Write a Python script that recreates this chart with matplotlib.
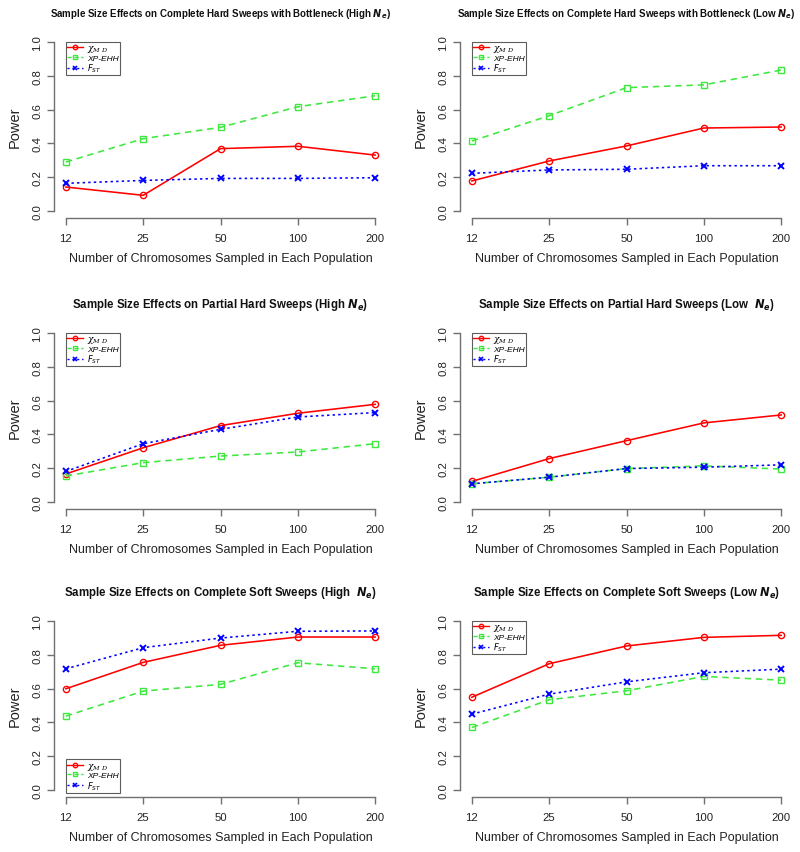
import matplotlib
matplotlib.use("Agg")
import matplotlib.pyplot as plt
from matplotlib.lines import Line2D

plt.rcParams['font.family'] = ['Liberation Sans', 'DejaVu Sans']

sample_sizes = ["12", "25", "50", "100", "200"]

titles = [
    r"Sample Size Effects on Complete Hard Sweeps with Bottleneck (High $\mathbfit{N}_{\mathbfit{e}}$)",
    r"Sample Size Effects on Complete Hard Sweeps with Bottleneck (Low $\mathbfit{N}_{\mathbfit{e}}$)",
    r"Sample Size Effects on Partial Hard Sweeps (High $\mathbfit{N}_{\mathbfit{e}}$)",
    r"Sample Size Effects on Partial Hard Sweeps (Low  $\mathbfit{N}_{\mathbfit{e}}$)",
    r"Sample Size Effects on Complete Soft Sweeps (High  $\mathbfit{N}_{\mathbfit{e}}$)",
    r"Sample Size Effects on Complete Soft Sweeps (Low $\mathbfit{N}_{\mathbfit{e}}$)",
]

chi_md = [
    [0.142, 0.093, 0.369, 0.383, 0.331],
    [0.178, 0.296, 0.385, 0.491, 0.497],
    [0.166, 0.321, 0.452, 0.525, 0.578],
    [0.122, 0.257, 0.363, 0.468, 0.515],
    [0.599, 0.755, 0.856, 0.905, 0.905],
    [0.549, 0.747, 0.852, 0.903, 0.915],
]
xp_ehh = [
    [0.290, 0.428, 0.495, 0.617, 0.682],
    [0.414, 0.564, 0.730, 0.746, 0.834],
    [0.154, 0.233, 0.272, 0.296, 0.345],
    [0.108, 0.147, 0.198, 0.214, 0.195],
    [0.437, 0.585, 0.625, 0.753, 0.717],
    [0.370, 0.534, 0.587, 0.672, 0.650],
]
fst = [
    [0.164, 0.181, 0.193, 0.193, 0.197],
    [0.223, 0.243, 0.247, 0.268, 0.268],
    [0.181, 0.345, 0.430, 0.503, 0.529],
    [0.108, 0.147, 0.198, 0.206, 0.220],
    [0.717, 0.842, 0.899, 0.939, 0.941],
    [0.449, 0.567, 0.640, 0.694, 0.715],
]
legend_locs = ["upper", "upper", "upper", "upper", "lower", "upper"]
title_sizes = [7.0, 7.0, 8.3, 8.3, 8.3, 8.3]

W, H = 800, 853
fig = plt.figure(figsize=(W / 100, H / 100), dpi=100)

col_left = [53.5, 459.5]
row_top = [36.2, 327.2, 615.2]
aw, ah = 334.0, 182.6

RED = "#ff0000"
GREEN = "#3ee83e"
BLUE = "#0000ff"
AXC = "#707070"
TXT = "#222222"

for i in range(6):
    r, c = divmod(i, 2)
    left = col_left[c] / W
    bottom = 1 - (row_top[r] + ah) / H
    ax = fig.add_axes([left, bottom, aw / W, ah / H])
    x = list(range(1, 6))
    ax.plot(x, chi_md[i], color=RED, lw=1.15, marker='o', ms=4.5, mfc='none', mew=1.0)
    ax.plot(x, xp_ehh[i], color=GREEN, lw=1.15, ls=(0, (4, 3)), marker='s', ms=4.2, mfc='none', mew=1.0)
    ax.plot(x, fst[i], color=BLUE, lw=1.15, ls=(0, (1.5, 2)), marker='x', ms=4.5, mew=1.4)
    ax.set_xlim(0.84, 5.16)
    ax.set_ylim(-0.04, 1.04)
    ax.set_xticks(x)
    ax.set_xticklabels(sample_sizes)
    ax.set_yticks([0, 0.2, 0.4, 0.6, 0.8, 1.0])
    ax.set_yticklabels(["0.0", "0.2", "0.4", "0.6", "0.8", "1.0"])
    for s in ['top', 'right']:
        ax.spines[s].set_visible(False)
    ax.spines['left'].set_bounds(0, 1)
    ax.spines['bottom'].set_bounds(1, 5)
    for s in ['left', 'bottom']:
        ax.spines[s].set_color(AXC)
        ax.spines[s].set_linewidth(1.0)
    ax.tick_params(axis='both', direction='out', length=5, width=1.0, color=AXC,
                   labelsize=8.2, labelcolor=TXT)
    ax.tick_params(axis='x', pad=6)
    ax.tick_params(axis='y', pad=3)
    for lab in ax.get_yticklabels():
        lab.set_rotation(90)
        lab.set_va('center')
    ax.set_ylabel("Power", fontsize=10.5, color=TXT, labelpad=8)
    ax.set_xlabel("Number of Chromosomes Sampled in Each Population", fontsize=9.0,
                  color=TXT, labelpad=6.5)
    ax.set_title(titles[i], fontsize=title_sizes[i], fontweight='bold', pad=13.7, color='#111111')
    ax.patch.set_visible(False)

    handles = [
        Line2D([], [], color=RED, lw=1.0, marker='o', ms=3.2, mfc='none'),
        Line2D([], [], color=GREEN, lw=1.0, ls=(0, (3, 2)), marker='s', ms=3.0, mfc='none'),
        Line2D([], [], color=BLUE, lw=1.0, ls=(0, (1.5, 2)), marker='x', ms=3.2, mew=1.2),
    ]
    labels = [r"$\chi_{M\,\,D}$", "XP-EHH", r"$F_{ST}$"]
    kw = dict(fontsize=6.0, frameon=True, fancybox=False, handlelength=1.9,
              handletextpad=0.45, borderpad=0.15, labelspacing=0.0, borderaxespad=0,
              borderpad_=None) if False else dict(
              fontsize=6.0, frameon=True, fancybox=False, handlelength=1.9,
              handletextpad=0.45, borderpad=0.15, labelspacing=0.0, borderaxespad=0)
    if legend_locs[i] == "upper":
        leg = ax.legend(handles, labels, loc='upper left', bbox_to_anchor=(0.037, 0.965), **kw)
    else:
        leg = ax.legend(handles, labels, loc='lower left', bbox_to_anchor=(0.037, 0.02), **kw)
    leg.get_frame().set_edgecolor('#333333')
    leg.get_frame().set_linewidth(0.8)
    texts = leg.get_texts()
    texts[0].set_math_fontfamily('dejavuserif')
    texts[0].set_fontsize(6.5)
    texts[1].set_style('italic')

fig.savefig("out.png", dpi=100)
